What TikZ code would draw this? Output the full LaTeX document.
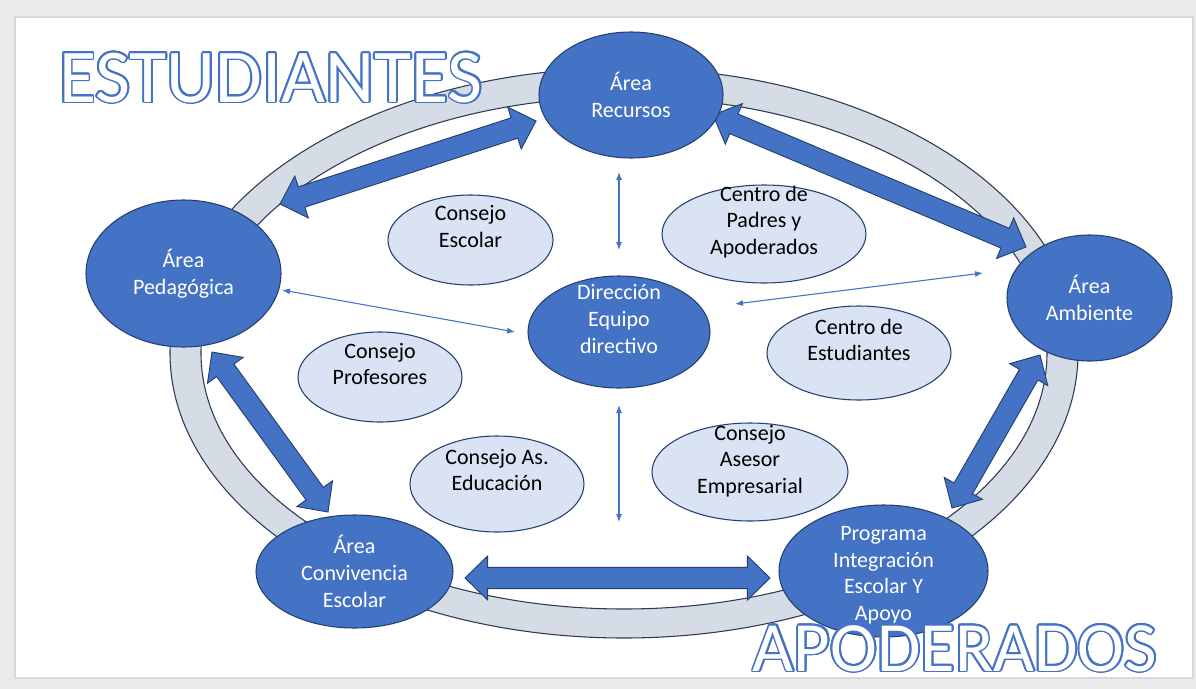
\documentclass[tikz,border=0pt]{standalone}
\usepackage{fontspec}
\setmainfont{Carlito}
\usepackage{contour}
\contourlength{1.4pt}
\usetikzlibrary{shapes.geometric,arrows.meta,calc}
\definecolor{dkblue}{HTML}{4472C4}
\definecolor{navy}{HTML}{24406F}
\definecolor{ltblue}{HTML}{DAE3F3}
\definecolor{ringfill}{HTML}{D6DCE5}
\definecolor{ringline}{HTML}{2B3A55}
\definecolor{bggray}{HTML}{EBEBEB}
\definecolor{bgline}{HTML}{D9D9D9}
\newcommand{\HL}{17pt}
\newcommand{\HW}{16.5pt}
\newcommand{\SW}{8pt}
\newcommand{\blockarrow}[2]{%
  \coordinate (ha) at ($(#1)!\HL!(#2)$);
  \coordinate (hb) at ($(#2)!\HL!(#1)$);
  \draw[blockarr] (#1) -- ($(ha)!\HW!90:(#2)$) -- ($(ha)!\SW!90:(#2)$)
    -- ($(hb)!\SW!-90:(#1)$) -- ($(hb)!\HW!-90:(#1)$) -- (#2)
    -- ($(hb)!\HW!90:(#1)$) -- ($(hb)!\SW!90:(#1)$)
    -- ($(ha)!\SW!-90:(#2)$) -- ($(ha)!\HW!-90:(#2)$) -- cycle;}
\tikzset{
  dk/.style={ellipse, draw=navy, fill=dkblue, line width=0.8pt, inner sep=0pt},
  lt/.style={ellipse, draw=navy, fill=ltblue, line width=0.8pt, inner sep=0pt},
  wtxt/.style={text=white, align=center, inner sep=0pt, font=\fontsize{16.5pt}{20pt}\selectfont},
  btxt/.style={text=black, align=center, inner sep=0pt, font=\fontsize{16.5pt}{20pt}\selectfont},
  blockarr/.style={draw=navy, fill=dkblue, line width=0.7pt, line join=miter},
  tarrow/.style={draw=dkblue, line width=0.8pt, {Latex[length=6pt,width=4.5pt]}-{Latex[length=6pt,width=4.5pt]}},
  bigword/.style={text=white, inner sep=0pt, anchor=base}
}
\begin{document}
\begin{tikzpicture}[x=0.75pt,y=-0.75pt]
\useasboundingbox (0,0) rectangle (1196,689);
% background frame
\fill[bggray] (0,0) rectangle (1196,689);
\fill[white] (15,17) rectangle (1193,678);
\draw[bgline, line width=0.8pt] (15,17) rectangle (1193,678);
% ring
\fill[ringfill, even odd rule] (624,353) ellipse [x radius=454, y radius=285]
  (624,353) ellipse [x radius=423, y radius=256];
\draw[ringline, line width=0.8pt] (624,353) ellipse [x radius=454, y radius=285];
\draw[ringline, line width=0.8pt] (624,353) ellipse [x radius=423, y radius=256];
% block arrow end points
\coordinate (r1a) at (280,204);  \coordinate (r1b) at (536,121);
\coordinate (r2a) at (713,115);  \coordinate (r2b) at (1026,247);
\coordinate (r3a) at (212,352);  \coordinate (r3b) at (328,512);
\coordinate (r4a) at (952,508);  \coordinate (r4b) at (1040,355);
\coordinate (r5a) at (465,578);  \coordinate (r5b) at (770,578);
\blockarrow{r1a}{r1b}
\blockarrow{r2a}{r2b}
\blockarrow{r3a}{r3b}
\blockarrow{r4a}{r4b}
\blockarrow{r5a}{r5b}
% dark nodes
\node[dk, minimum width=138pt, minimum height=94.5pt,
  label={[wtxt]center:{Área\\Recursos}}] (rec) at (631,95) {};
\node[dk, minimum width=146.25pt, minimum height=110.25pt,
  label={[wtxt]center:{Área\\Pedagógica}}] (ped) at (183.5,273.5) {};
\node[dk, minimum width=123.75pt, minimum height=94.5pt,
  label={[wtxt]center:{Área\\Ambiente}}] (amb) at (1089.5,298) {};
\node[dk, minimum width=147.75pt, minimum height=84.75pt,
  label={[wtxt]center:{Área\\Convivencia\\Escolar}}] (con) at (354.5,571.5) {};
\node[dk, minimum width=156.75pt, minimum height=99pt,
  label={[wtxt, yshift=-3.25pt]center:{Programa\\Integración\\Escolar Y\\Apoyo}}] (pie) at (883.5,571) {};
\node[dk, minimum width=136.5pt, minimum height=84pt,
  label={[wtxt, yshift=9.75pt]center:{Dirección\\Equipo\\directivo}}] (dir) at (619,332) {};
% light nodes
\node[lt, minimum width=123.75pt, minimum height=67.5pt,
  label={[btxt, yshift=10pt]center:{Consejo\\Escolar}}] (ces) at (470.5,240) {};
\node[lt, minimum width=153pt, minimum height=73.5pt,
  label={[btxt, yshift=9pt]center:{Centro de\\Padres y\\Apoderados}}] (cpa) at (764,234) {};
\node[lt, minimum width=123pt, minimum height=67.5pt,
  label={[btxt, yshift=9.75pt]center:{Consejo\\Profesores}}] (cpr) at (380,377) {};
\node[lt, minimum width=138pt, minimum height=70.5pt,
  label={[btxt, yshift=9.75pt]center:{Centro de\\Estudiantes}}] (cest) at (859,353) {};
\node[lt, minimum width=130.5pt, minimum height=72pt,
  label={[btxt, yshift=10.5pt]center:{Consejo As.\\Educación}}] (cae) at (497,484) {};
\node[lt, minimum width=147pt, minimum height=73.5pt,
  label={[btxt, yshift=8.25pt]center:{Consejo\\Asesor\\Empresarial}}] (case) at (750,472) {};
% thin arrows
\coordinate (t1a) at (619,172); \coordinate (t1b) at (619,250);
\coordinate (t2a) at (619,405); \coordinate (t2b) at (619,522);
\coordinate (t3a) at (282,290); \coordinate (t3b) at (515,332);
\coordinate (t4a) at (735,304); \coordinate (t4b) at (983,273);
\draw[tarrow] (t1a) -- (t1b);
\draw[tarrow] (t2a) -- (t2b);
\draw[tarrow] (t3a) -- (t3b);
\draw[tarrow] (t4a) -- (t4b);
% big words
\node[bigword, font=\fontsize{57pt}{60pt}\selectfont] (stu) at (271,102) {\contour{dkblue}{ESTUDIANTES}};
\node[bigword, font=\fontsize{53pt}{60pt}\selectfont] (apo) at (955,671) {\contour{dkblue}{APODERADOS}};
\end{tikzpicture}
\end{document}
